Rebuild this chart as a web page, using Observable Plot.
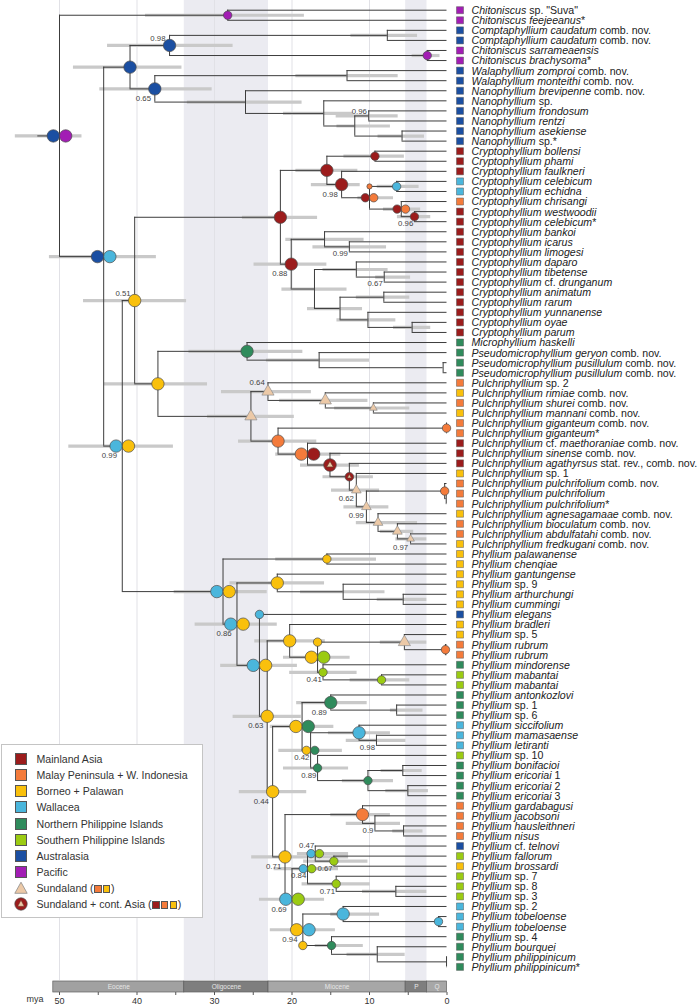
<!DOCTYPE html>
<html><head><meta charset="utf-8">
<script src="https://cdn.jsdelivr.net/npm/d3@7"></script>
<script src="https://cdn.jsdelivr.net/npm/@observablehq/plot@0.6"></script>
<style>
html,body{margin:0;padding:0;background:#fff;}
#wrap{position:relative;width:699px;height:1006px;overflow:hidden;font-family:"Liberation Sans",Arial,sans-serif;}
#wrap svg{display:block;}
#legend{position:absolute;left:1px;top:744px;width:202px;height:174px;background:#fff;border:1px solid #c4c4c4;box-sizing:border-box;font-size:10.6px;color:#333;}
#legend .sw{position:absolute;left:13px;width:12px;height:12px;box-sizing:border-box;border:0.8px solid #555;}
#legend svg.sy{position:absolute;left:12px;width:14px;height:14px;}
#legend .lt{position:absolute;left:34.5px;line-height:14px;white-space:nowrap;}
#legend .mini{display:inline-block;width:7.5px;height:7.5px;box-sizing:border-box;border:0.7px solid #555;margin:0 0.6px;vertical-align:-0.5px;}
</style></head><body><div id="wrap"></div>
<script>
// ---------- regions ----------
const regionKeys   = ["MA","MP","BP","WA","NP","SP","AU","PA"];
const regionNames  = ["Mainland Asia","Malay Peninsula + W. Indonesia","Borneo + Palawan","Wallacea","Northern Philippine Islands","Southern Philippine Islands","Australasia","Pacific"];
const regionColors = ["#9c1c1c","#f47b3b","#f9c00c","#4ab6dc","#2f8b5c","#9bcb12","#1b4fa2","#a21db4"];
const sundaColor = "#ecc9a7";

// ---------- tips (segments alternate italic / roman) ----------
const tipLabels = [
 ["Chitoniscus"," sp. \"Suva\""],["Chitoniscus feejeeanus","*"],["Comptaphyllium caudatum"," comb. nov."],["Comptaphyllium caudatum"," comb. nov."],
 ["Chitoniscus sarrameaensis"],["Chitoniscus brachysoma","*"],["Walaphyllium zomproi"," comb. nov."],["Walaphyllium monteithi"," comb. nov."],
 ["Nanophyllium brevipenne"," comb. nov."],["Nanophyllium"," sp."],["Nanophyllium frondosum"],["Nanophyllium rentzi"],["Nanophyllium asekiense"],["Nanophyllium"," sp.*"],
 ["Cryptophyllium bollensi"],["Cryptophyllium phami"],["Cryptophyllium faulkneri"],["Cryptophyllium celebicum"],["Cryptophyllium echidna"],["Cryptophyllium chrisangi"],
 ["Cryptophyllium westwoodii"],["Cryptophyllium celebicum","*"],["Cryptophyllium bankoi"],["Cryptophyllium icarus"],["Cryptophyllium limogesi"],["Cryptophyllium daparo"],
 ["Cryptophyllium tibetense"],["Cryptophyllium"," cf. ","drunganum"],["Cryptophyllium animatum"],["Cryptophyllium rarum"],["Cryptophyllium yunnanense"],["Cryptophyllium oyae"],["Cryptophyllium parum"],
 ["Microphyllium haskelli"],["Pseudomicrophyllium geryon"," comb. nov."],["Pseudomicrophyllium pusillulum"," comb. nov."],["Pseudomicrophyllium pusillulum"," comb. nov."],
 ["Pulchriphyllium"," sp. 2"],["Pulchriphyllium rimiae"," comb. nov."],["Pulchriphyllium shurei"," comb. nov."],["Pulchriphyllium mannani"," comb. nov."],
 ["Pulchriphyllium giganteum"," comb. nov."],["Pulchriphyllium giganteum","*"],["Pulchriphyllium"," cf. ","maethoraniae"," comb. nov."],["Pulchriphyllium sinense"," comb. nov."],
 ["Pulchriphyllium agathyrsus"," stat. rev., comb. nov."],["Pulchriphyllium"," sp. 1"],["Pulchriphyllium pulchrifolium"," comb. nov."],["Pulchriphyllium pulchrifolium"],
 ["Pulchriphyllium pulchrifolium","*"],["Pulchriphyllium agnesagamaae"," comb. nov."],["Pulchriphyllium bioculatum"," comb. nov."],["Pulchriphyllium abdulfatahi"," comb. nov."],
 ["Pulchriphyllium fredkugani"," comb. nov."],["Phyllium palawanense"],["Phyllium chenqiae"],["Phyllium gantungense"],["Phyllium"," sp. 9"],["Phyllium arthurchungi"],
 ["Phyllium cummingi"],["Phyllium elegans"],["Phyllium bradleri"],["Phyllium"," sp. 5"],["Phyllium rubrum"],["Phyllium rubrum"],["Phyllium mindorense"],
 ["Phyllium mabantai"],["Phyllium mabantai"],["Phyllium antonkozlovi"],["Phyllium"," sp. 1"],["Phyllium"," sp. 6"],["Phyllium siccifolium"],["Phyllium mamasaense"],
 ["Phyllium letiranti"],["Phyllium"," sp. 10"],["Phyllium bonifacioi"],["Phyllium ericoriai"," 1"],["Phyllium ericoriai"," 2"],["Phyllium ericoriai"," 3"],
 ["Phyllium gardabagusi"],["Phyllium jacobsoni"],["Phyllium hausleithneri"],["Phyllium nisus"],["Phyllium"," cf. ","telnovi"],["Phyllium fallorum"],["Phyllium brossardi"],
 ["Phyllium"," sp. 7"],["Phyllium"," sp. 8"],["Phyllium"," sp. 3"],["Phyllium"," sp. 2"],["Phyllium tobeloense"],["Phyllium tobeloense"],["Phyllium"," sp. 4"],
 ["Phyllium bourquei"],["Phyllium philippinicum"],["Phyllium philippinicum","*"]
];
const tipRegions = ("PA PA AU AU PA PA AU AU AU AU AU AU AU AU " +
 "MA MA MA WA WA MP MA MA MA MA MA MA MA MA MA MA MA MA MA " +
 "NP NP NP NP MP BP MP BP MP MP MA MA MA BP MP MP MP BP MP MP BP " +
 "BP BP BP BP BP BP AU BP BP MP MP NP SP SP NP NP NP WA WA WA SP NP NP NP NP " +
 "MP MP MP MP AU SP BP SP SP SP WA WA WA NP NP NP NP").split(" ");
const tipParents = ["chit1","chit1","comp","comp","chit2","chit2","wala","wala","nano1","nano2","nano4","nano4","nano5","nano5",
 "F1a","F1a","F1b","F1d","F1d","F1e","F1f","F1f","F3","F4","F4","F6","F7","F7","F9","F9","F10","F11","F11",
 "J","J2","J3","J3","L","M","N","N","O1","O1","P","Q","Rn","S","T1","T2","T2","U","V","W","W",
 "X1","X1","Z","Z1","Z2","Z2","AA","AC","AD1","AD2","AD2","AD3","AD4","AD4","AF1","AF2","AF2","AG1","AG2","AG2",
 "AH","AH2","AH2","AH3","AH3","AJ","AJ1","AJ2","AJ2","AM","AM1","AM1","AL1","AL2","AL2","AN1","AN2","AN2","AN3","AN4","AN5","AN5"];

// ---------- internal nodes: id, parent, age (mya), 95% HPD old, young ----------
const rootStemAge = 52.8;
const nodes = [
 ["root",null,50.0,55.7,47.1],["chit1","root",28.3,38.9,18.4],["B","root",44.3,51.3,37.5],
 ["C","B",40.9,48.2,34.2],["D","C",35.8,43.8,27.6],["comp","D",7.7,12.4,3.8],["chit2","D",2.55,4.5,0.9],
 ["E","C",37.7,44.8,30.3],["wala","E",12.9,19.5,6.3],["nano1","E",26.0,33.5,18.7],["nano2","nano1",15.9,21.1,12.1],
 ["nano3","nano2",11.9,14.2,7.3],["nano4","nano3",10.1,14.3,6.3],["nano5","nano3",5.8,8.9,2.9],
 ["H","B",41.9,48.8,35.3],["G","H",40.3,46.9,33.6],["F","G",21.5,26.4,16.7],
 ["F1","F",15.5,19.5,11.5],["F1a","F1",9.3,13.3,5.5],["F1b","F1",13.6,17.5,11.2],["F1c","F1b",10.0,11.5,6.9],
 ["F1d","F1c",6.5,9.0,3.6],["F1e","F1c",5.9,8.2,3.4],["F1f","F1e",4.2,6.4,2.1],
 ["F2","F",20.1,24.9,15.5],["F3","F2",15.8,20.8,10.7],["F4","F3",12.6,17.3,7.8],["F5","F2",17.1,21.3,12.9],
 ["F6","F5",11.7,16.0,7.6],["F7","F6",8.1,9.2,4.7],["F8","F5",13.8,18.0,10.9],["F9","F8",8.15,11.7,4.8],
 ["F10","F8",10.2,14.2,6.6],["F11","F10",4.5,6.9,2.1],
 ["I","G",37.3,44.2,30.9],["J","I",25.8,33.3,18.6],["J2","J",16.5,23.3,10.0],["J3","J2",0.5,null,null],
 ["K","I",25.3,30.9,19.7],["L","K",23.1,29.1,17.5],["M","L",15.7,21.6,10.2],["N","M",9.5,14.5,4.8],
 ["O","K",21.8,26.9,16.8],["O1","O",0.06,null,null],["P","O",18.0,22.1,13.7],["Q","P",15.1,18.9,11.3],
 ["Rn","Q",12.6,16.0,9.5],["S","Rn",11.7,14.9,8.7],["T","S",10.4,13.3,7.5],["T1","T",0.3,null,null],["T2","T1",0.1,null,null],
 ["U","T",8.9,11.7,3.8],["V","U",6.4,8.6,4.3],["W","V",4.7,6.6,2.6],
 ["X","H",28.9,35.2,23.2],["X1","X",15.5,22.1,9.1],["Y","X",27.1,32.5,21.9],["Z","Y",21.9,28.0,15.8],
 ["Z1","Z",13.4,18.9,8.0],["Z2","Z1",5.65,9.0,2.6],["AA","Y",24.2,29.2,19.3],["AB","AA",23.2,27.6,18.8],
 ["AC","AB",20.3,24.8,15.7],["AD","AC",16.7,21.1,12.5],["AD1","AD",5.5,8.6,2.6],["AD2","AD1",0.2,null,null],
 ["AD3","AD",16.0,20.3,11.6],["AD4","AD3",8.45,12.5,4.8],
 ["AE","AB",22.5,26.8,18.1],["AF","AE",18.7,22.8,14.6],["AF1","AF",15.0,19.4,10.3],["AF2","AF1",6.5,7.3,3.1],
 ["AG","AF",17.6,21.7,13.5],["AG1","AG",11.35,15.3,7.3],["AG2","AG1",9.1,13.0,5.3],
 ["AH","AG",16.7,21.1,12.7],["AH1","AH",10.2,13.5,6.9],["AH2","AH1",5.7,8.5,3.2],["AH3","AH1",5.05,7.9,2.4],
 ["AI","AE",20.9,25.2,12.7],["AJ","AI",10.9,15.0,7.3],["AJ1","AJ",9.3,13.0,6.0],["AJ2","AJ1",5.6,7.0,3.1],
 ["AK","AI",20.0,24.2,15.8],["AL","AK",18.0,22.3,14.0],["AM","AL",17.0,19.3,12.7],["AM1","AM",14.6,18.5,10.2],
 ["AL1","AL",14.3,18.7,9.9],["AL2","AL1",6.6,10.9,2.6],
 ["AN","AK",18.6,22.8,14.4],["AN1","AN",13.4,15.0,8.7],["AN2","AN1",1.1,null,null],
 ["AN3","AN",14.9,17.0,10.8],["AN4","AN3",9.0,12.9,5.4],["AN5","AN4",0.06,null,null]
];

// ---------- ancestral areas: id, kind, regions, size ----------
const nodeStates = [
 ["root","pie","AU PA","L"],["chit1","pie","PA","S"],["B","pie","AU WA","L"],["C","pie","AU","L"],["D","pie","AU","L"],
 ["chit2","pie","PA","S"],["E","pie","AU","L"],
 ["F","pie","MA","L"],["F1","pie","MA","L"],["F1a","pie","MA","S"],["F1b","pie","MA","L"],["F1c","pie","MA MP","S"],
 ["F1d","pie","WA","S"],["F1e","pie","MA MP","S"],["F1f","pie","MA","S"],["F2","pie","MA","L"],
 ["G","pie","BP","L"],["H","pie","WA BP","L"],["I","pie","BP","L"],["J","pie","NP","L"],
 ["K","tri","","L"],["L","tri","","L"],["M","tri","","L"],["N","tri","","S"],
 ["O","pie","MP","L"],["O1","pie","MP","S"],["P","pie","MP MA","L"],["Q","combo","","L"],["Rn","combo","","S"],
 ["S","tri","","M"],["T","tri","","M"],["T1","pie","MP","S"],["U","tri","","M"],["V","tri","","M"],["W","tri","","S"],
 ["X","pie","WA BP","L"],["X1","pie","BP","S"],["Y","pie","WA BP","L"],["Z","pie","BP","L"],["AA","pie","WA BP","L"],
 ["AB","pie","BP","L"],["AC","pie","BP","L"],["AD","pie","BP SP","L"],["AD1","tri","","L"],["AD2","pie","MP","S"],
 ["AD3","pie","SP","S"],["AD4","pie","SP","S"],["AE","pie","BP","L"],["AF","pie","BP NP","L"],["AF1","pie","NP","L"],
 ["AG","pie","BP NP","S"],["AG1","pie","WA","L"],["AH","pie","NP","S"],["AH1","pie","NP","S"],
 ["AI","pie","BP","L"],["AJ","pie","MP","L"],["AK","pie","WA SP","L"],["AL","pie","WA SP","S"],["AM","pie","WA SP","S"],
 ["AM1","pie","SP","S"],["AL1","pie","SP","S"],["AN","pie","BP WA","L"],["AN1","pie","WA","L"],["AN2","pie","WA","S"],["AN3","pie","NP","S"]
];
// states drawn at the base of a branch: child id, region, size
const stemStates = [["t60","WA","S"],["AD1","BP","S"],["AN3","BP","S"],["F1d","MP","XS"]];

// ---------- posterior support: id, value, placement ----------
const supports = [
 ["D",0.98,"t"],["E",0.65,"b"],["nano4",0.96,"t"],["F1b",0.98,"b"],["F1f",0.96,"b"],["F2",0.88,"b"],["F4",0.99,"b"],["F7",0.67,"b"],
 ["G",0.51,"t"],["H",0.99,"b"],["L",0.64,"t"],["S",0.62,"b"],["T",0.99,"b"],["W",0.97,"b"],["Y",0.86,"b"],["AB",0.63,"b"],
 ["AD3",0.41,"b"],["AF1",0.89,"b"],["AG",0.42,"b"],["AG2",0.98,"b"],["AH",0.89,"b"],["AE",0.44,"b"],["AJ1",0.9,"b"],
 ["AI",0.71,"b"],["AM",0.47,"t"],["AM1",0.67,"b"],["AL",0.84,"b"],["AL1",0.71,"b"],["AK",0.69,"b"],["AN",0.94,"b"]
];

// ---------- time scale ----------
const epochNames = ["Eocene","Oligocene","Miocene","P","Q"];
const epochStart = [50.8, 33.9, 23.03, 5.333, 2.58];
const epochEnd   = [33.9, 23.03, 5.333, 2.58, 0];
const epochFill  = ["#a1a1a1","#7e7e7e","#a7a7a7","#7e7e7e","#a7a7a7"];
const shadedEpochs = ["Oligocene","P"];
const gridAges = [50,40,30,20,10];
const axisTicks = d3.range(0, 51, 5);

// ================= build =================
const colorOf = k => regionColors[regionKeys.indexOf(k)];
const map = new Map();
nodes.forEach(([id,parent,age,old,young]) => map.set(id,{id,parent,age,old,young,children:[]}));
tipLabels.forEach((lab,i) => map.set("t"+i,{id:"t"+i,parent:tipParents[i],age:0,children:[],y:i,tip:true}));
for (const n of map.values()) if (n.parent) map.get(n.parent).children.push(n);
function setY(n){ if (n.tip) return n.y; const ys = n.children.map(setY); n.y = (Math.min(...ys)+Math.max(...ys))/2; return n.y; }
setY(map.get("root"));
const all = [...map.values()];
const internals = all.filter(n => !n.tip);

const horiz = all.map(n => ({y:n.y, a1: n.parent ? map.get(n.parent).age : rootStemAge, a2:n.age}));
const vert = internals.map(n => ({x:n.age, y1:d3.min(n.children,c=>c.y), y2:d3.max(n.children,c=>c.y)}));
const hpd = internals.filter(n => n.old != null).map(n => ({y:n.y, a1:n.old, a2:n.young}));

const pieR = {L:6.2, S:4.2, XS:2.6};
const triR = {L:4.5, M:3.6, S:2.85};
const symInfo = new Map(nodeStates.map(([id,kind,regs,size]) => [id,{kind,regs:regs?regs.split(" "):[],size}]));
const circles = [], tris = [];
for (const [id,s] of symInfo) {
  const n = map.get(id);
  if (s.kind === "pie") {
    const r = pieR[s.size];
    if (s.regs.length === 1) circles.push({x:n.age,y:n.y,fill:colorOf(s.regs[0]),r,dx:0});
    else s.regs.forEach((k,j) => circles.push({x:n.age,y:n.y,fill:colorOf(k),r,dx:(j===0?-r:r)}));
  } else if (s.kind === "tri") {
    tris.push({x:n.age,y:n.y,r:triR[s.size],fill:sundaColor,stroke:"#8c8c8c"});
  } else {
    const r = s.size === "L" ? 6.3 : 4.3;
    circles.push({x:n.age,y:n.y,fill:colorOf("MA"),r,dx:0});
    tris.push({x:n.age,y:n.y,r:s.size==="L"?2.5:1.6,fill:sundaColor,stroke:"#6b3b2b"});
  }
}
stemStates.forEach(([id,k,size]) => { const n = map.get(id); circles.push({x:map.get(n.parent).age,y:n.y,fill:colorOf(k),r:pieR[size],dx:0}); });

// support label placement (depends on the node symbol)
const offB = {none:[-1.5,6.8], S:[-1.2,7.2], L:[-3.8,9.6], Lpair:[-5.3,9.8], tri:[-2.5,8.5], triL:[-3,9.5]};
const offT = {none:[-1.8,-4.3], S:[-1,-7.7], L:[-4,-7.3], Lpair:[-4,-7.3], tri:[-3,-8], triL:[-3.2,-9.6]};
const supRows = supports.map(([id,v,pos]) => {
  const n = map.get(id), s = symInfo.get(id);
  const cls = !s ? "none" : s.kind==="tri" ? (s.size==="L"?"triL":"tri") : s.size==="L" ? (s.regs.length>1?"Lpair":"L") : "S";
  const [dx,dy] = (pos==="t"?offT:offB)[cls];
  return {x:n.age,y:n.y,text:String(v),dx,dy};
});

// tip labels: measure segments so italic and roman parts follow each other
const FONT = '"Liberation Sans", Arial, sans-serif';
const LFS = 10.6;
const ctx = document.createElement("canvas").getContext("2d");
const meas = (t,it) => { ctx.font = `${it?"italic ":""}${LFS}px ${FONT}`; return ctx.measureText(t).width; };
const pxPerMy = (446.5-59)/50;
const segRows = [];
tipLabels.forEach((segs,i) => {
  let off = 24.5;
  segs.forEach((s,j) => {
    const it = j%2===0;
    const lead = s.length - s.trimStart().length;
    const t = s.trim();
    off += meas(s.slice(0,lead), it);
    segRows.push({x:-off/pxPerMy, y:i, text:t, italic:it});
    off += meas(t, it) + meas(s.slice(lead+t.length), it);
  });
});
const tipRows = tipRegions.map((k,i) => ({y:i, fill:colorOf(k)}));
const bands = shadedEpochs.map(nm => { const i = epochNames.indexOf(nm); return {a1:epochStart[i], a2:epochEnd[i]}; });

function grouped(rows, keyFn, makeMark){ return d3.groups(rows, keyFn).map(([k,rs]) => makeMark(rs, k)); }

const main = Plot.plot({
  width:699, height:980, marginTop:0, marginBottom:0, marginLeft:0, marginRight:0,
  x:{domain:[50,0], range:[59,446.5], axis:null},
  y:{domain:[0,95], range:[9.7,966.4], axis:null},
  style:{fontFamily:FONT, background:"transparent", overflow:"visible"},
  marks:[
    Plot.rect(bands, {x1:"a1", x2:"a2", fill:"#ebebf1"}),
    Plot.ruleX(gridAges, {stroke:"#e1e1e6", strokeWidth:1}),
    Plot.ruleY(hpd, {y:"y", x1:"a1", x2:"a2", stroke:"#c9c9c9", strokeWidth:3.2}),
    Plot.ruleY(horiz, {y:"y", x1:"a1", x2:"a2", stroke:"#3c3c3c", strokeWidth:1}),
    Plot.ruleX(vert, {x:"x", y1:"y1", y2:"y2", stroke:"#3c3c3c", strokeWidth:1}),
    ...grouped(circles, d => d.dx+"|"+d.r, (rs) => Plot.dot(rs, {x:"x", y:"y", fill:"fill", r:rs[0].r, dx:rs[0].dx, stroke:"#4a4a4a", strokeWidth:0.7})),
    ...grouped(tris, d => d.r+"|"+d.stroke, (rs) => Plot.dot(rs, {x:"x", y:"y", symbol:"triangle", r:rs[0].r, fill:"fill", stroke:rs[0].stroke, strokeWidth:0.7})),
    ...grouped(supRows, d => d.dx+"|"+d.dy, (rs) => Plot.text(rs, {x:"x", y:"y", text:"text", dx:rs[0].dx, dy:rs[0].dy, textAnchor:"end", fontSize:7.8, fill:"#444"})),
    Plot.dot(tipRows, {x:0, y:"y", symbol:"square", r:3.95, dx:13, fill:"fill", stroke:"#555", strokeWidth:0.5}),
    Plot.text(segRows.filter(d=>d.italic), {x:"x", y:"y", text:"text", textAnchor:"start", fontSize:LFS, fontStyle:"italic", fill:"#222", dy:0.5}),
    Plot.text(segRows.filter(d=>!d.italic), {x:"x", y:"y", text:"text", textAnchor:"start", fontSize:LFS, fill:"#222", dy:0.5})
  ]
});

const epochs = epochNames.map((nm,i) => ({name:nm, a1:epochStart[i], a2:epochEnd[i], fill:epochFill[i]}));
const geo = Plot.plot({
  width:699, height:26, marginTop:1, marginBottom:14, marginLeft:0, marginRight:0,
  x:{domain:[50,0], range:[59,446.5], axis:null},
  y:{domain:[0,1], axis:null},
  style:{fontFamily:FONT, background:"transparent", overflow:"visible"},
  marks:[
    Plot.rect(epochs, {x1:"a1", x2:"a2", y1:0, y2:1, fill:"fill", stroke:"#5e5e5e", strokeWidth:0.7}),
    Plot.text(epochs, {x:d=>(d.a1+d.a2)/2, y:0.5, text:"name", fill:"#e6e6e6", fontSize:6.5}),
    Plot.axisX(axisTicks, {anchor:"bottom", tickSize:3, tickPadding:2, tickFormat:d => d%10===0 ? String(d) : "", fontSize:9, fill:"#333", stroke:"#555", label:null}),
    Plot.text(["mya"], {frameAnchor:"bottom-left", dx:26, dy:9, text:d=>d, textAnchor:"start", fontSize:9, fill:"#333"})
  ]
});

const wrap = document.getElementById("wrap");
wrap.appendChild(main);
wrap.appendChild(geo);

// legend
const leg = document.createElement("div");
leg.id = "legend";
const rowC = i => 14 + 16.15*i;
let html = "";
regionNames.forEach((nm,i) => {
  html += `<span class="sw" style="top:${rowC(i)-6}px;background:${regionColors[i]}"></span><span class="lt" style="top:${rowC(i)-7}px">${nm}</span>`;
});
const mini = k => `<span class="mini" style="background:${colorOf(k)}"></span>`;
html += `<svg class="sy" style="top:${rowC(8)-7}px" viewBox="0 0 14 14"><polygon points="7,1.2 13.2,12.3 0.8,12.3" fill="${sundaColor}" stroke="#8c8c8c" stroke-width="0.8"/></svg>`;
html += `<span class="lt" style="top:${rowC(8)-7}px">Sundaland (${mini("MP")}${mini("BP")})</span>`;
html += `<svg class="sy" style="top:${rowC(9)-7}px" viewBox="0 0 14 14"><circle cx="7" cy="7" r="6.2" fill="${colorOf("MA")}" stroke="#4a4a4a" stroke-width="0.7"/><polygon points="7,3.2 10.2,9.3 3.8,9.3" fill="${sundaColor}" stroke="#6b3b2b" stroke-width="0.5"/></svg>`;
html += `<span class="lt" style="top:${rowC(9)-7}px">Sundaland + cont. Asia (${mini("MA")}${mini("MP")}${mini("BP")})</span>`;
leg.innerHTML = html;
wrap.appendChild(leg);
</script>
</body></html>
